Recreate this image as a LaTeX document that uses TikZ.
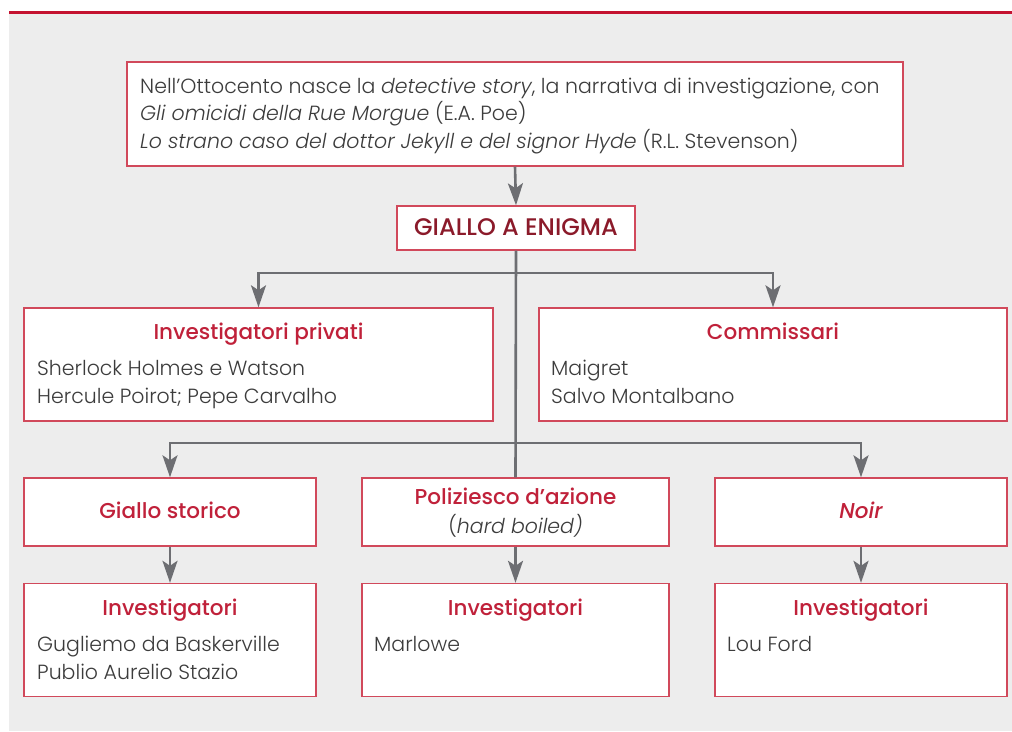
\documentclass[tikz,border=0pt]{standalone}
\usepackage{fontspec}
\setmainfont{Poppins Light}[ItalicFont={Poppins Light Italic}]
\newfontfamily\medf{Poppins Medium}[ItalicFont={Poppins Medium Italic}]
\usetikzlibrary{arrows.meta}
\definecolor{bggray}{HTML}{EDEDED}
\definecolor{topred}{HTML}{C41230}
\definecolor{boxred}{HTML}{D1495B}
\definecolor{headred}{HTML}{C0213A}
\definecolor{darkred}{HTML}{8B1A2A}
\definecolor{bodytext}{HTML}{3C3C3C}
\definecolor{conn}{HTML}{6D6E72}
\tikzset{
  box/.style={draw=boxred, line width=1.4pt, fill=white, inner sep=0pt, rectangle},
  arr/.style={draw=conn, line width=2.6pt, -{Stealth[length=22pt,width=15pt,inset=5pt]}},
  ln/.style={draw=conn, line width=2.6pt},
  body/.style={anchor=base west, inner sep=0pt, text=bodytext, font=\fontsize{20.5}{27.5}\selectfont},
  head/.style={anchor=base, inner sep=0pt, text=headred, font=\medf\fontsize{21.5}{24}\selectfont},
}
\begin{document}
\begin{tikzpicture}[x=1pt,y=-1pt]
\useasboundingbox (0,0) rectangle (1012,731);
\fill[white] (0,0) rectangle (1012,731);
\fill[bggray] (9,13) rectangle (1012,731);
\fill[topred] (9,10.5) rectangle (1012,13.5);
% boxes
\node[box, minimum width=776pt, minimum height=104pt] (top) at (515,114) {};
\node[box, minimum width=238pt, minimum height=44pt] (giallo) at (516,228) {};
\node[box, minimum width=469pt, minimum height=113pt] (priv) at (258.5,364.5) {};
\node[box, minimum width=468pt, minimum height=113pt] (comm) at (773,364.5) {};
\node[box, minimum width=292pt, minimum height=68pt] (stor) at (170,512) {};
\node[box, minimum width=307pt, minimum height=68pt] (poliz) at (515.5,512) {};
\node[box, minimum width=292pt, minimum height=68pt] (noir) at (861,512) {};
\node[box, minimum width=292pt, minimum height=113pt] (inv1) at (170,640) {};
\node[box, minimum width=307pt, minimum height=113pt] (inv2) at (515.5,640) {};
\node[box, minimum width=292pt, minimum height=113pt] (inv3) at (861,640) {};
% connectors
\coordinate (b1) at (giallo.south |- 0,273);
\coordinate (b2) at (giallo.south |- 0,443);
\draw[arr] (top.south) -- (giallo.north);
\draw[ln] (giallo.south) -- (poliz.north);
\draw[arr] (b1) -| (priv.north);
\draw[arr] (b1) -| (comm.north);
\draw[arr] (b2) -| (stor.north);
\draw[arr] (b2) -| (noir.north);
\draw[arr] (stor.south) -- (inv1.north);
\draw[arr] (poliz.south) -- (inv2.north);
\draw[arr] (noir.south) -- (inv3.north);
% texts
\node[body] (t1) at (140,93) {Nell’Ottocento nasce la \textit{detective story}, la narrativa di investigazione, con};
\node[body] (t2) at (140,120.5) {\textit{Gli omicidi della Rue Morgue} (E.A. Poe)};
\node[body] (t3) at (140,148) {\textit{Lo strano caso del dottor Jekyll e del signor Hyde} (R.L. Stevenson)};
\node[head, text=darkred, font=\medf\fontsize{24}{26}\selectfont] (tg) at (516,235) {GIALLO A ENIGMA};
\node[head] (h1) at (258.5,339) {Investigatori privati};
\node[body] (p1) at (37,375) {Sherlock Holmes e Watson};
\node[body] (p2) at (37,403) {Hercule Poirot; Pepe Carvalho};
\node[head] (h2) at (773,339) {Commissari};
\node[body] (c1) at (551,375) {Maigret};
\node[body] (c2) at (551,403) {Salvo Montalbano};
\node[head] (h3) at (170,518) {Giallo storico};
\node[head] (h4) at (515.5,504) {Poliziesco d’azione};
\node[body, anchor=base] (h4b) at (515.5,533) {(\textit{hard boiled)}};
\node[head] (h5) at (861,518) {\itshape Noir};
\node[head] (i1) at (170,615) {Investigatori};
\node[head] (i2) at (515.5,615) {Investigatori};
\node[head] (i3) at (861,615) {Investigatori};
\node[body] (s1) at (37,651) {Gugliemo da Baskerville};
\node[body] (s2) at (37,679) {Publio Aurelio Stazio};
\node[body] (m1) at (374,651) {Marlowe};
\node[body] (l1) at (727,651) {Lou Ford};
\end{tikzpicture}
\end{document}
